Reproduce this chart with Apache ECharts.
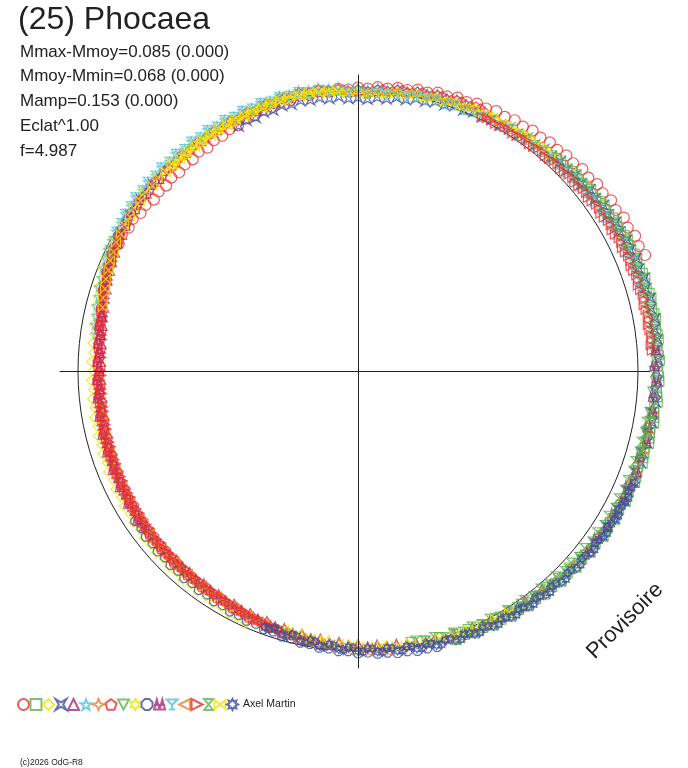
<!DOCTYPE html>
<html>
<head>
<meta charset="utf-8">
<title>(25) Phocaea</title>
<script src="https://cdn.jsdelivr.net/npm/echarts@6.0.0/dist/echarts.min.js"></script>
<style>
html, body { margin: 0; padding: 0; background: #fff; }
#Chart { width: 688px; height: 768px; }
</style>
</head>
<body>
<div id="Chart"></div>
<script>
// textes
var titleText = "(25) Phocaea";
var statLines = ["Mmax-Mmoy=0.085 (0.000)", "Mmoy-Mmin=0.068 (0.000)", "Mamp=0.153 (0.000)", "Eclat^1.00", "f=4.987"];
var observer = "Axel Martin";
var stampText = "Provisoire";
var copyText = "(c)2026 OdG-R8";

// sessions : [phase en degres, rayon] (rayon 1 = cercle de reference)
var s01 = [[298,.968],[300,.974],[302,.966],[304,.971],[306,.960],[308,.963],[310,.952],[312,.958],[314,.953],[316,.960],[318,.955],[320,.963],[322,.959],[324,.968],[326,.962],[328,.972],[330,.970],[332,.978],[334,.977],[336,.987],[338,.985],[340,.994],[342,.992],[344,1.000],[346,.997],[348,1.005],[350,1.001],[352,1.008],[354,1.004],[356,1.010],[358,1.006],[0,1.012],[2,1.009],[4,1.016],[6,1.014],[8,1.021],[10,1.019],[12,1.027],[14,1.025],[16,1.034],[18,1.031],[20,1.039],[22,1.036],[24,1.045],[26,1.043],[28,1.051],[30,1.048],[32,1.056],[34,1.053],[36,1.061],[38,1.058],[40,1.066],[42,1.063],[44,1.071],[46,1.068],[48,1.078],[50,1.074],[52,1.084],[54,1.080],[56,1.090],[58,1.085],[60,1.096],[62,1.091],[64,1.101],[66,1.097],[68,1.106]];
var s02 = [[42,1.036],[44,1.045],[46,1.041],[48,1.050],[50,1.046],[52,1.056],[54,1.052],[56,1.062],[58,1.058],[60,1.067],[62,1.063],[64,1.072],[66,1.068],[68,1.076],[70,1.071],[72,1.079],[74,1.073],[76,1.080],[78,1.074],[80,1.081],[82,1.075],[84,1.080],[86,1.073],[88,1.079],[90,1.072],[92,1.077],[94,1.070],[96,1.076],[98,1.068],[100,1.074],[102,1.066],[104,1.071],[106,1.064],[108,1.069],[110,1.061],[112,1.067],[114,1.059],[116,1.064],[118,1.056],[120,1.061],[122,1.053],[124,1.058],[126,1.049],[128,1.054],[130,1.045],[132,1.050],[134,1.041],[136,1.046],[138,1.037],[140,1.042],[142,1.033],[144,1.038],[146,1.029],[148,1.034],[150,1.025],[152,1.030],[154,1.021],[156,1.026],[158,1.017],[160,1.022],
    [43,1.041],[45,1.038],[47,1.047],[49,1.043],[51,1.052],[53,1.049],[55,1.058],[57,1.055],[59,1.064],[61,1.060],[63,1.069],[65,1.065],[67,1.073],[69,1.068],[71,1.076],[73,1.071],[75,1.078],[77,1.072],[79,1.078],[81,1.073],[83,1.078],[85,1.071],[87,1.076],[89,1.069],[91,1.075],[93,1.068],[95,1.073],[97,1.066],[99,1.071],[101,1.064],[103,1.069],[105,1.061],[107,1.066],[109,1.058],[111,1.064],[113,1.056],[115,1.061],[117,1.053],[119,1.058],[121,1.050],[123,1.055],[125,1.046],[127,1.051],[129,1.042],[131,1.047],[133,1.038],[135,1.043],[137,1.034],[139,1.039],[141,1.030],[143,1.035],[145,1.026],[147,1.031],[149,1.022],[151,1.027],[153,1.018],[155,1.023],[157,1.014],[159,1.019]];
var s03 = [[204,.985],[206,.979],[208,.981],[210,.975],[212,.977],[214,.971],[216,.974],[218,.968],[220,.973],[222,.967],[224,.971],[226,.965],[228,.970],[230,.964],[232,.969],[234,.962],[236,.967],[238,.961],[240,.966],[242,.959],[244,.964],[246,.957],[248,.962],[250,.955],[252,.960],[254,.953],[256,.958],[258,.951],[260,.957],[262,.950],[264,.955],[266,.948],[268,.954],[270,.948],[272,.953],[274,.947],[276,.953],[278,.950],[280,.957],[282,.957],[284,.964],[286,.966],[288,.974],[290,.976],[292,.985],[294,.986],[296,.994],[298,.996]];
var s04 = [[334,.972],[336,.979],[338,.975],[340,.982],[342,.978],[344,.985],[346,.980],[348,.986],[350,.981],[352,.984],[354,.977],[356,.980],[358,.972],[0,.975],[2,.970],[4,.978],[6,.976],[8,.985],[10,.983],[12,.993],[14,.991],[16,1.000],[18,.998],[20,1.007],[22,1.004],[24,1.013],[26,1.010],[28,1.019],[30,1.015],[32,1.024],[34,1.020],[36,1.029],[38,1.025],[40,1.034],[42,1.030],[44,1.039],[46,1.035],[48,1.045],[50,1.041],[52,1.051],[54,1.047],[56,1.057],[58,1.053],[60,1.063],[62,1.059],[64,1.068],[66,1.064],[68,1.072],[70,1.067],[72,1.075],[74,1.069],[76,1.076],[78,1.070],[80,1.077],[82,1.069],[84,1.075],[86,1.067],[88,1.073],[90,1.065],[92,1.071],[94,1.063],[96,1.069],[98,1.060],[100,1.067],[102,1.058],[104,1.064],[106,1.055],[108,1.062],[110,1.053],[112,1.059],[114,1.050],[116,1.057],[118,1.048],[120,1.054],[122,1.045],[124,1.051],[126,1.042]];
var s05 = [[138,1.025],[140,1.019],[142,1.022],[144,1.015],[146,1.018],[148,1.010],[150,1.014],[152,1.006],[154,1.010],[156,1.002],[158,1.006],[160,.998],[162,1.002],[164,.994],[166,.998],[168,.989],[170,.993],[172,.984],[174,.988],[176,.979],[178,.984],[180,.975],[182,.979],[184,.970],[186,.974],[188,.965],[190,.969],[192,.960],[194,.963],[196,.955],[198,.958],[200,.950],[202,.953],[204,.946],[206,.949],[208,.942],[210,.946],[212,.939],[214,.944],[216,.937],[218,.942],[220,.936],[222,.941],[224,.935],[226,.940],[228,.934],[230,.939],[232,.933],[234,.938],[236,.931],[238,.937],[240,.930],[242,.935],[244,.928],[246,.933],[248,.926],[250,.931],[252,.924],[254,.929],[256,.922],[258,.927],[260,.920],[262,.926],[264,.919],[266,.925],[268,.918],[270,.924],[272,.919],[274,.925],[276,.921],[278,.928],[280,.926],[282,.934],[284,.934],[286,.944],[288,.944],[290,.955],[292,.955],[294,.966],[296,.965],[298,.975],[300,.973]];
var s06 = [[278,.945],[280,.953],[282,.954],[284,.962],[286,.963],[288,.972],[290,.973],[292,.982],[294,.983],[296,.991],[298,.991],[300,.998],[302,.997],[304,1.004],[306,1.002],[308,1.008],[310,1.004],[312,1.010],[314,1.005],[316,1.011],[318,1.006],[320,1.012],[322,1.006],[324,1.013],[326,1.008],[328,1.015],[330,1.009],[332,1.016],[334,1.011],[336,1.018],[338,1.013],[340,1.020],[342,1.015],[344,1.022],[346,1.017],[348,1.024],[350,1.018],[352,1.022],[354,1.014],[356,1.017],[358,1.009],[0,1.012],[2,1.007],[4,1.015],[6,1.012],[8,1.020],[10,1.017],[12,1.025],[14,1.022],[16,1.030],[18,1.027],[20,1.034],[22,1.031]];
var s07 = [[98,1.064],[100,1.058],[102,1.063],[104,1.056],[106,1.061],[108,1.053],[110,1.059],[112,1.051],[114,1.057],[116,1.049],[118,1.055],[120,1.046],[122,1.052],[124,1.043],[126,1.049],[128,1.040],[130,1.046],[132,1.036],[134,1.042],[136,1.032],[138,1.038],[140,1.028],[142,1.035],[144,1.025],[146,1.031],[148,1.021],[150,1.027],[152,1.017],[154,1.024],[156,1.013],[158,1.020],[160,1.009],[162,1.015],[164,1.003],[166,1.010],[168,.997],[170,1.004],[172,.991],[174,.999],[176,.986],[178,.994],[180,.981],[182,.988],[184,.975],[186,.982],[188,.969],[190,.976],[192,.963],[194,.970],[196,.957],[198,.964],[200,.953],[202,.960],[204,.949],[206,.957],[208,.946],[210,.954],[212,.944],[214,.952],[216,.942],[218,.951],[220,.941],[222,.950],[224,.940],[226,.949],[228,.939],[230,.948],[232,.938],[234,.947],[236,.937],[238,.945],[240,.935],[242,.944],[244,.933],[246,.942],[248,.931],[250,.940],[252,.929],[254,.938],[256,.927],[258,.935],[260,.925],[262,.933],[264,.923],[266,.931],[268,.921],[270,.929],
    [199,.959],[201,.965],[203,.955],[205,.961],[207,.951],[209,.958],[211,.948],[213,.955],[215,.946],[217,.953],[219,.944],[221,.952],[223,.943],[225,.951],[227,.942],[229,.950],[231,.941],[233,.949],[235,.939],[237,.947],[239,.937],[241,.945],[243,.935],[245,.943],[247,.933],[249,.941],[251,.931],[253,.939],[255,.929],[257,.937],[259,.927],[261,.935],[263,.925],[265,.933],[267,.923],[269,.931]];
var s08 = [[188,.987],[190,.979],[192,.981],[194,.972],[196,.975],[198,.965],[200,.969],[202,.959],[204,.963],[206,.954],[208,.958],[210,.949],[212,.955],[214,.946],[216,.952],[218,.944],[220,.951],[222,.942],[224,.950],[226,.941],[228,.949],[230,.940],[232,.948],[234,.939],[236,.946],[238,.937],[240,.945],[242,.935],[244,.943],[246,.933],[248,.941],[250,.931],[252,.939],[254,.929],[256,.937],[258,.927],[260,.935],[262,.925],[264,.933],[266,.923],[268,.932],[270,.922],[272,.931],[274,.924],[276,.933],[278,.928],[280,.937],[282,.935],[284,.945],[286,.945],[288,.956],[290,.954],[292,.966],[294,.963],[296,.975],[298,.971],[300,.982],[302,.978],[304,.988],[306,.983],[308,.991],[310,.985],[312,.993],[314,.986],[316,.994],[318,.987],[320,.995],[322,.988],[324,.997],[326,.990],[328,.999],[330,.993],[332,1.002],[334,.996],[336,1.005],[338,1.000],[340,1.009],[342,1.004],[344,1.013],[346,1.008],[348,1.016],[350,1.010],[352,1.015],[354,1.006],[356,1.010],[358,1.001],[0,1.005],[2,.999],[4,1.008],[6,1.005],[8,1.014],[10,1.011],[12,1.020],[14,1.017],[16,1.026],[18,1.022],[20,1.030],[22,1.026],[24,1.034],[26,1.030],
    [189,.980],[191,.977],[193,.975],[195,.968],[197,.966],[199,.964],[201,.958],[203,.957],[205,.955],[207,.949],[209,.950],[211,.945],[213,.947],[215,.942],[217,.945],[219,.941],[221,.944],[223,.939],[225,.943],[227,.937],[229,.942],[231,.936],[233,.940],[235,.934],[237,.939],[239,.932],[241,.937],[243,.930],[245,.935],[247,.928],[249,.933],[251,.926],[253,.931],[255,.924],[257,.929],[259,.922],[261,.927],[263,.920],[265,.925],[267,.919],[269,.924],[271,.918],[273,.924],[275,.920],[277,.927],[279,.926],[281,.933],[283,.936],[285,.944],[287,.948],[289,.957],[291,.959],[293,.968],[295,.969],[297,.977],[299,.977],[301,.984],[303,.982],[305,.989],[307,.985],[309,.991],[311,.987],[313,.993],[315,.988],[317,.994],[319,.989],[321,.996],[323,.991],[325,.998],[327,.993],[329,1.000],[331,.996],[333,1.003],[335,.999],[337,1.006],[339,1.003],[341,1.010],[343,1.006],[345,1.013],[347,1.010],[349,1.015],[351,1.010],[353,1.012],[355,1.004],[357,1.007],[359,.999],[1,1.003],[3,1.001],[5,1.010],[7,1.007],[9,1.016],[11,1.013],[13,1.022],[15,1.019],[17,1.027],[19,1.024],[21,1.031],[23,1.028],[25,1.035]];
var s09 = [[34,1.022],[36,1.027],[38,1.024],[40,1.030],[42,1.027],[44,1.034],[46,1.031],[48,1.039],[50,1.035],[52,1.044],[54,1.040],[56,1.050],[58,1.046],[60,1.055],[62,1.051],[64,1.060],[66,1.055],[68,1.063],[70,1.058],[72,1.065],[74,1.059],[76,1.066],[78,1.060],[80,1.066],[82,1.059],[84,1.065],[86,1.058],[88,1.064],[90,1.056],[92,1.062],[94,1.054],[96,1.061],[98,1.052],[100,1.059],[102,1.050],[104,1.057],[106,1.048],[130,1.034],[133,1.029],[136,1.027],[139,1.022],[142,1.020],[145,1.015],[148,1.013],[151,1.008],[154,1.006],[157,1.001],[160,.999],[163,.994],[166,.991],[169,.986]];
var s10 = [[318,.985],[320,.995],[322,.988],[324,.998],[326,.990],[328,1.001],[330,.992],[332,1.003],[334,.994],[336,1.005],[338,.997],[340,1.008],[342,1.000],[344,1.011],[346,1.002],[348,1.012],[350,1.003],[352,1.010],[354,.999],[356,1.005],[358,.993],[0,.999],[2,.991],[4,1.000],[6,.995],[8,1.006],[10,1.000],[12,1.011],[14,1.005],[16,1.016],[18,1.010],[20,1.021],[22,1.015],[24,1.025],[26,1.019],[28,1.029],[30,1.022],[32,1.032],[34,1.025],[36,1.035],[38,1.028],[40,1.037],[42,1.031],
    [319,.991],[321,.987],[323,.996],[325,.989],[327,.999],[329,.992],[331,1.001],[333,.994],[335,1.004],[337,.996],[339,1.006],[341,.999],[343,1.009],[345,1.001],[347,1.010],[349,1.002],[351,1.009],[353,1.000],[355,1.004],[357,.994],[359,.998],[1,.990],[3,.997],[5,.992],[7,1.003],[9,.997],[11,1.008],[13,1.002],[15,1.013],[17,1.007],[19,1.018],[21,1.012],[23,1.022],[25,1.016],[27,1.026],[29,1.020],[31,1.029],[33,1.023],[35,1.032],[37,1.026],[39,1.034],[41,1.028]];
var s11 = [[164,1.025],[166,1.021],[168,1.022],[170,1.016],[172,1.017],[174,1.011],[176,1.012],[178,1.006],[180,1.008],[182,1.001],[184,1.003],[186,.996],[188,.998],[190,.990],[192,.992],[194,.984],[196,.986],[198,.978],[200,.981],[202,.973],[204,.976],[206,.969],[208,.972],[210,.965],[212,.969],[214,.962],[216,.966],[218,.960],[220,.965],[222,.959],[224,.963],[226,.957],[228,.962],[230,.956],[232,.961],[234,.955],[236,.959]];
var s12 = [[234,.944],[236,.950],[238,.941],[240,.948],[242,.939],[244,.946],[246,.937],[248,.944],[250,.935],[252,.942],[254,.933],[256,.940],[258,.930],[260,.937],[262,.928],[264,.935],[266,.926],[268,.933],[270,.925],[272,.932],[274,.926],[276,.934],[278,.929],[280,.939],[282,.937],[284,.947],[286,.946],[288,.958],[290,.955],[292,.968],[294,.964],[296,.977],[298,.972],[300,.984],[302,.979],[304,.990],[306,.984],[308,.993],[310,.986],[312,.994],[314,.987],[86,1.066],[89,1.059],[92,1.065],[95,1.057],[98,1.063],[101,1.054],[104,1.061],[107,1.051],[110,1.058],[113,1.048],[116,1.055],[119,1.045],[122,1.051],[125,1.041],[128,1.047]];
var s13 = [[294,.978],[296,.986],[298,.988],[300,.996],[302,.996],[304,1.003],[306,1.001],[308,1.008],[310,1.004],[312,1.010],[314,1.005],[316,1.011],[318,1.005],[320,1.012],[322,1.006],[324,1.013],[326,1.007],[328,1.014],[330,1.008],[332,1.015],[334,1.010],[336,1.017],[338,1.011],[340,1.018],[342,1.012],[344,1.019],[346,1.013],[348,1.018],[350,1.011],[352,1.014],[354,1.004],[356,1.006],[358,.996],[0,.999],[2,.990],[4,.996],[6,.992],[8,.999],[10,.995],[12,1.003],[14,.999],[16,1.006],[18,1.002],[20,1.009],[22,1.005],[24,1.012],[26,1.008],[28,1.015],[30,1.011],[32,1.018],[34,1.013],[36,1.020],[38,1.016],[40,1.022],[42,1.018],[44,1.025],[46,1.021],[48,1.029],[50,1.025],[52,1.033],[54,1.029],[56,1.037],[58,1.034],[60,1.042],[62,1.038],[64,1.046],[66,1.042],[68,1.050],[70,1.046],[72,1.053],[74,1.049]];
var s14 = [[174,1.006],[176,.999],[178,1.002],[180,.994],[182,.997],[184,.988],[186,.991],[188,.982],[190,.986],[192,.976],[194,.980],[196,.970],[198,.974],[200,.964],[202,.969],[204,.959],[206,.964],[208,.954],[210,.960],[212,.950],[214,.957],[216,.947],[218,.955],[220,.945],[222,.953],[224,.944],[226,.952],[228,.943],[230,.951],[232,.942],[234,.950],[236,.940],[238,.948],[240,.938],[242,.946],[244,.936],[246,.944],[248,.934],[250,.942],[252,.932],[254,.940],[256,.930],[258,.938],[260,.928],[262,.936]];
var s15 = [[26,1.008],[28,1.013],[30,1.010],[32,1.016],[34,1.013],[36,1.019],[38,1.016],[40,1.022],[42,1.019],[44,1.026],[46,1.023],[48,1.030],[50,1.027],[52,1.034],[54,1.031],[56,1.038],[58,1.035],[60,1.042],[62,1.039],[64,1.046],[66,1.043],[68,1.049],[70,1.046],[72,1.052],[74,1.048],[76,1.054],[78,1.050],[80,1.055],[82,1.051],[84,1.055],[86,1.052],[196,.970],[198,.966],[200,.963],[202,.959],[204,.957],[206,.952],[208,.951],[210,.946],[212,.947],[214,.942],[216,.945],[218,.940],[220,.944],[222,.938],[224,.943],[226,.937],[228,.942],[230,.936],[232,.941],[234,.934],[236,.940],[238,.932],[240,.938],[242,.930],[244,.936],[246,.928],[248,.934],[250,.926],[252,.932],[254,.924],[256,.930],[258,.922],[260,.928],[262,.920],[264,.927],[266,.919],[268,.926],[270,.918],[272,.926],[274,.920],[276,.928],[278,.924],[280,.933],[282,.931],[284,.941],[286,.941],[288,.952],[290,.951],[292,.963],[294,.961],[296,.972],[298,.969],[300,.979],
    [27,1.015],[29,1.009],[31,1.017],[33,1.012],[35,1.020],[37,1.014],[39,1.023],[41,1.017],[43,1.026],[45,1.020],[47,1.029],[49,1.024],[51,1.033],[53,1.028],[55,1.037],[57,1.032],[59,1.041],[61,1.036],[63,1.045],[65,1.040],[67,1.048],[69,1.043],[71,1.051],[73,1.045],[75,1.053],[77,1.047],[79,1.054],[81,1.048],[83,1.055],[85,1.049],
    [197,.965],[199,.968],[201,.958],[203,.962],[205,.953],[207,.956],[209,.947],[211,.951],[213,.943],[215,.948],[217,.940],[219,.946],[221,.938],[223,.945],[225,.936],[227,.944],[229,.935],[231,.943],[233,.933],[235,.942],[237,.931],[239,.940],[241,.929],[243,.938],[245,.927],[247,.936],[249,.925],[251,.934],[253,.923],[255,.932],[257,.921],[259,.930],[261,.919],[263,.928],[265,.917],[267,.927],[269,.917],[271,.927],[273,.918],[275,.929],[277,.922],[279,.934],[281,.928],[283,.941],[285,.937],[287,.951],[289,.946],[291,.961],[293,.956],[295,.970],[297,.966],[299,.978]];
var s16 = [[98,1.053],[100,1.047],[102,1.051],[104,1.045],[106,1.049],[108,1.042],[110,1.047],[112,1.040],[114,1.044],[116,1.037],[118,1.042],[120,1.034],[122,1.039],[124,1.031],[126,1.036],[128,1.027],[130,1.033],[132,1.023],[134,1.029],[136,1.019],[138,1.025],[140,1.015],[142,1.021],[144,1.011],[146,1.017],[148,1.007],[150,1.013],[152,1.003],[154,1.009],[156,.999],[158,1.004],[160,.994],[162,.999],[164,.989],[166,.994],[168,.984]];
var s17 = [[284,.940],[286,.948],[288,.950],[290,.959],[292,.961],[294,.970],[296,.971],[298,.979],[300,.978],[302,.986],[304,.983],[306,.990],[308,.986],[310,.993],[312,.988],[314,.994],[316,.988],[318,.995],[320,.989],[322,.996],[324,.990],[326,.997],[328,.991],[330,.999],[332,.993],[334,1.001],[336,.996],[338,1.004],[340,.999],[342,1.007],[344,1.002],[346,1.010],[348,1.004],[350,1.010],[352,1.003],[354,1.007],[356,.999],[148,1.018],[151,1.011],[154,1.012],[157,1.005],[160,1.006],[163,.998],[166,.999],[169,.991],[172,.992],[175,.984],[178,.985],[181,.977],[184,.977],[187,.969],[190,.970],[193,.961],[196,.962]];
var s18 = [[112,1.066],[114,1.058],[116,1.063],[118,1.055],[120,1.061],[122,1.052],[124,1.058],[126,1.048],[128,1.055],[130,1.044],[132,1.051],[134,1.040],[136,1.047],[138,1.036],[140,1.043],[142,1.032],[144,1.039],[146,1.028],[148,1.035],[150,1.024],[152,1.031],[154,1.020],[156,1.027],[158,1.016],[160,1.023],[162,1.011],[164,1.018],[166,1.005],[168,1.013],[170,1.000],[172,1.008],[174,.995],[176,1.004],[178,.991],[180,1.000],[182,.987],[184,.995],[186,.982],[188,.990],[190,.976],[192,.984],[194,.970],[196,.978],[198,.965],[200,.972],
    [113,1.061],[115,1.065],[117,1.057],[119,1.062],[121,1.054],[123,1.060],[125,1.050],[127,1.057],[129,1.046],[131,1.053],[133,1.042],[135,1.050],[137,1.038],[139,1.046],[141,1.034],[143,1.042],[145,1.030],[147,1.038],[149,1.026],[151,1.034],[153,1.022],[155,1.030],[157,1.018],[159,1.026],[161,1.013],[163,1.021],[165,1.008],[167,1.016],[169,1.003],[171,1.011],[173,.998],[175,1.007],[177,.993],[179,1.003],[181,.989],[183,.998],[185,.984],[187,.993],[189,.978],[191,.987],[193,.972],[195,.981],[197,.967],[199,.975]];

var sessions = [s01, s02, s03, s04, s05, s06, s07, s08, s09, s10, s11, s12, s13, s14, s15, s16, s17, s18];

// couleurs et symboles (cycle de 7 couleurs)
var red = "#e8302f", green = "#5ab44a", yellow = "#f2e400", blue = "#3a4fa0",
    purple = "#a8287c", cyan = "#52c0d8", orange = "#f08028";
var colors = [red, green, yellow, blue, purple, cyan, orange,
              red, green, yellow, blue, purple, cyan, orange,
              red, green, yellow, blue];
var symbols = [
    'circle',
    'rect',
    'diamond',
    'path://M-10,-10L0,-4L10,-10L4,0L10,10L0,4L-10,10L-4,0Z',
    'triangle',
    'path://M0,-10L2.4,-3.3L9.5,-3.1L3.8,1.3L5.9,8.1L0,4.1L-5.9,8.1L-3.8,1.3L-9.5,-3.1L-2.4,-3.3Z',
    'path://M0,-10L3,-3L10,0L3,3L0,10L-3,3L-10,0L-3,-3Z',
    'path://M0,-10L9.5,-3.1L5.9,8.1L-5.9,8.1L-9.5,-3.1Z',
    'path://M-10,-9L10,-9L0,9Z',
    'path://M0,-10L2.9,-5L8.7,-5L5.8,0L8.7,5L2.9,5L0,10L-2.9,5L-8.7,5L-5.8,0L-8.7,-5L-2.9,-5Z',
    'path://M-4,-10L4,-10L10,-4L10,4L4,10L-4,10L-10,4L-10,-4Z',
    'path://M-10,9L-5,-9L0,9ZM0,9L5,-9L10,9ZM-10,1L10,1',
    'path://M-10,-8L10,-8L0,2ZM0,2L0,10M-6,10L6,10',
    'path://M10,-10L-10,0L10,10Z',
    'path://M-10,-10L10,0L-10,10Z',
    'path://M-8,-10L8,-10L-8,10L8,10Z',
    'path://M-10,-8L10,8L10,-8L-10,8Z',
    'path://M0,-10L2.3,-5.5L7.1,-7.1L5.5,-2.3L10,0L5.5,2.3L7.1,7.1L2.3,5.5L0,10L-2.3,5.5L-7.1,7.1L-5.5,2.3L-10,0L-5.5,-2.3L-7.1,-7.1L-2.3,-5.5Z'
];

var font = "'Liberation Sans', Arial, sans-serif";
var ink = "#222";

var myChart = echarts.init(document.getElementById("Chart"));

var series = [];
var legendNames = [];
for (var i = 0; i < sessions.length; i++) {
    var name = i === sessions.length - 1 ? observer : "s" + (i + 1);
    legendNames.push(name);
    series.push({
        name: name,
        type: 'scatter',
        coordinateSystem: 'polar',
        clip: false,
        symbol: symbols[i],
        symbolSize: i === 0 ? 11 : 9,
        itemStyle: {
            color: 'rgba(0,0,0,0)',
            borderColor: colors[i],
            borderWidth: 1.2
        },
        // polaire : [rayon, angle]
        data: sessions[i].map(function (p) { return [p[1], p[0]]; })
    });
}

var titles = [{
    text: titleText, left: 18, top: 4, padding: 0,
    textStyle: { fontFamily: font, fontSize: 32, fontWeight: 'normal', color: ink }
}];
for (var k = 0; k < statLines.length; k++) {
    titles.push({
        text: statLines[k], left: 20, top: 43.5 + k * 24.8, padding: 0,
        textStyle: { fontFamily: font, fontSize: 17, fontWeight: 'normal', color: ink }
    });
}
titles.push({
    text: copyText, left: 20, top: 758, padding: 0,
    textStyle: { fontFamily: font, fontSize: 8.5, fontWeight: 'normal', color: ink }
});

var option = {
    animation: false,
    title: titles,
    legend: {
        data: legendNames,
        left: 17,
        top: 698,
        padding: 0,
        itemWidth: 11,
        itemHeight: 11,
        itemGap: -0.5,
        selectedMode: false,
        formatter: function (n) { return n === observer ? n : ''; },
        textStyle: { fontFamily: font, fontSize: 10.5, color: ink }
    },
    polar: { center: [358, 371], radius: 280 },
    angleAxis: {
        type: 'value', min: 0, max: 360, startAngle: 90, clockwise: true,
        axisLine: { show: true, lineStyle: { color: ink, width: 1 } },
        axisTick: { show: false }, axisLabel: { show: false }, splitLine: { show: false }
    },
    radiusAxis: { type: 'value', min: 0, max: 1, show: false },
    // la croix des axes, par-dessus les points
    grid: { left: 60, top: 75, width: 590, height: 593 },
    xAxis: {
        type: 'value', min: -298, max: 292, z: 10,
        axisLine: { onZero: true, lineStyle: { color: ink, width: 1 } },
        axisTick: { show: false }, axisLabel: { show: false }, splitLine: { show: false }
    },
    yAxis: {
        type: 'value', min: -297, max: 296, z: 10,
        axisLine: { onZero: true, lineStyle: { color: ink, width: 1 } },
        axisTick: { show: false }, axisLabel: { show: false }, splitLine: { show: false }
    },
    graphic: [{
        type: 'text',
        x: 625, y: 621,
        rotation: 45 * Math.PI / 180,
        style: {
            text: stampText, fill: ink, font: '22px ' + font,
            align: 'center', verticalAlign: 'middle'
        }
    }],
    series: series
};
myChart.setOption(option);
</script>
</body>
</html>
